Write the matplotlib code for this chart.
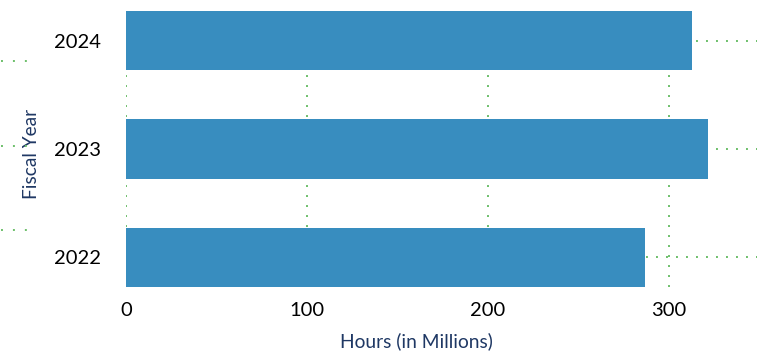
import matplotlib
matplotlib.use("Agg")
import matplotlib.pyplot as plt
from matplotlib.lines import Line2D

years = ["2022", "2023", "2024"]
hours = [286.7, 321.5, 312.7]
xticks = [0, 100, 200, 300]

plt.rcParams['font.family'] = ['Lato', 'DejaVu Sans']
plt.rcParams['lines.scale_dashes'] = False

fig = plt.figure(figsize=(7.69, 3.53), dpi=100)
ax = fig.add_axes([126/769, 1-287/353, (757-126)/769, (287-11)/353])

grid_color = '#6cbf6a'
dots = (0, (1.4, 5.8))
ypos = list(range(len(years)))
for y in ypos:
    ax.axhline(y, color=grid_color, lw=1.4, ls=dots, zorder=0)
for x in xticks:
    ax.axvline(x, color=grid_color, lw=1.4, ls=dots, zorder=0)

ax.barh(ypos, hours, height=0.545, color='#388dbf', zorder=2)

ax.set_xlim(0, 348.6)
ax.set_ylim(-0.2725, 2.2725)
ax.set_xticks(xticks)
ax.set_xticklabels([str(t) for t in xticks])
ax.set_yticks(ypos)
ax.set_yticklabels(years)
ax.tick_params(axis='both', length=0, labelsize=14.5, colors='black')
ax.tick_params(axis='y', pad=18)
ax.tick_params(axis='x', pad=11)
for s in ax.spines.values():
    s.set_visible(False)

navy = '#1f3864'
ax.set_xlabel("Hours (in Millions)", fontsize=13.8, color=navy)
ax.set_ylabel("Fiscal Year", fontsize=13.8, color=navy)
ax.xaxis.set_label_coords(0.46, -0.165)
ax.yaxis.set_label_coords(-0.137, 0.483)

# stray dotted fragments at left edge
for ypx in [61, 146, 230]:
    fig.add_artist(Line2D([1/769, 32/769], [1-ypx/353, 1-ypx/353],
                          transform=fig.transFigure, color=grid_color,
                          lw=1.4, ls=(0, (1.4, 7.2))))

fig.savefig("out.png", dpi=100)
